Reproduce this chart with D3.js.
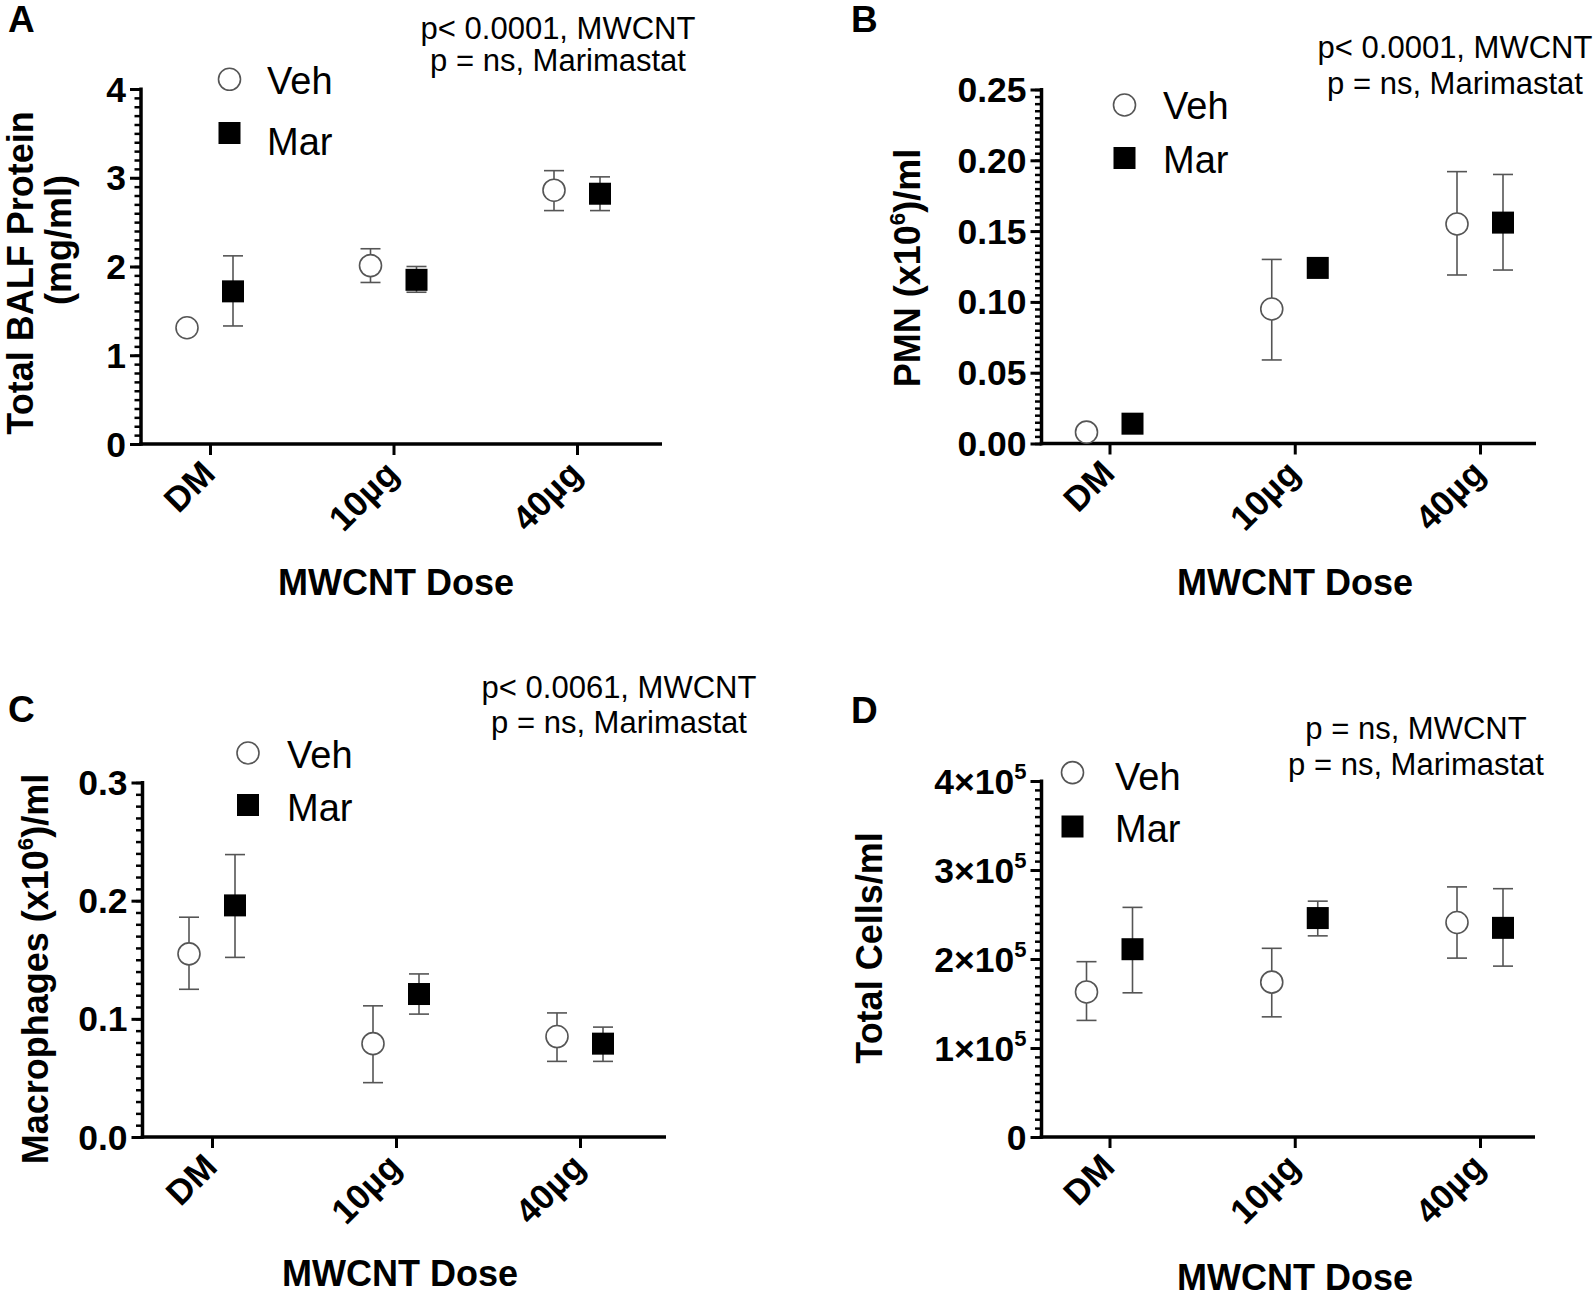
<!DOCTYPE html>
<html><head><meta charset="utf-8">
<script src="https://cdn.jsdelivr.net/npm/d3@7"></script>
<style>
body{margin:0;background:#fff}
svg{display:block}
text{font-family:"Liberation Sans",Arial,Helvetica,sans-serif;fill:#000}
</style>
</head><body>
<svg id="c" width="1594" height="1298"></svg>
<script>
// ---------------- DATA ----------------
const categories = ["DM", "10µg", "40µg"];
const seriesNames = ["Veh", "Mar"];
const xTitle = "MWCNT Dose";

// Panel A: Total BALF Protein (mg/ml)
const protVeh   = [1.31, 2.01, 2.86];
const protVehLo = [1.31, 1.82, 2.63];
const protVehHi = [1.31, 2.20, 3.08];
const protMar   = [1.72, 1.85, 2.82];
const protMarLo = [1.33, 1.71, 2.63];
const protMarHi = [2.12, 2.00, 3.01];
const protTicks = [0, 1, 2, 3, 4];
const protTickLabels = ["0", "1", "2", "3", "4"];
const protTitle = ["Total BALF Protein", "(mg/ml)"];
const protStats = ["p< 0.0001, MWCNT", "p = ns, Marimastat"];

// Panel B: PMN (x10^6)/ml
const pmnVeh   = [0.008, 0.095, 0.155];
const pmnVehLo = [0.008, 0.059, 0.119];
const pmnVehHi = [0.008, 0.130, 0.192];
const pmnMar   = [0.014, 0.124, 0.156];
const pmnMarLo = [0.014, 0.124, 0.1225];
const pmnMarHi = [0.014, 0.124, 0.190];
const pmnTicks = [0, 0.05, 0.10, 0.15, 0.20, 0.25];
const pmnTickLabels = ["0.00", "0.05", "0.10", "0.15", "0.20", "0.25"];
const pmnTitle = ["PMN (x10^6)/ml"];
const pmnStats = ["p< 0.0001, MWCNT", "p = ns, Marimastat"];

// Panel C: Macrophages (x10^6)/ml
const macVeh   = [0.155, 0.079, 0.085];
const macVehLo = [0.125, 0.046, 0.064];
const macVehHi = [0.186, 0.111, 0.105];
const macMar   = [0.196, 0.121, 0.079];
const macMarLo = [0.152, 0.104, 0.064];
const macMarHi = [0.239, 0.138, 0.093];
const macTicks = [0, 0.1, 0.2, 0.3];
const macTickLabels = ["0.0", "0.1", "0.2", "0.3"];
const macTitle = ["Macrophages (x10^6)/ml"];
const macStats = ["p< 0.0061, MWCNT", "p = ns, Marimastat"];

// Panel D: Total Cells/ml
const cellVeh   = [163000, 174000, 241000];
const cellVehLo = [131000, 135000, 201000];
const cellVehHi = [197000, 212000, 281000];
const cellMar   = [211000, 246000, 235000];
const cellMarLo = [162000, 226000, 192000];
const cellMarHi = [258000, 265000, 279000];
const cellTicks = [0, 100000, 200000, 300000, 400000];
const cellTickLabels = ["0", "1×10^5", "2×10^5", "3×10^5", "4×10^5"];
const cellTitle = ["Total Cells/ml"];
const cellStats = ["p = ns, MWCNT", "p = ns, Marimastat"];

// ---------------- LAYOUT ----------------
const panels = [
  {letter:"A", lx:8, ly:32,
   veh:[protVeh,protVehLo,protVehHi], mar:[protMar,protMarLo,protMarHi],
   ticks:protTicks, tickLabels:protTickLabels, minor:40, title:protTitle, stats:protStats,
   axisX:141, yTop:89, yBot:444, xEnd:662, catRange:[210,577],
   titlePos:[[33,273],[71,240]], xTitlePos:[396,595],
   statsPos:[558,38.5,71], leg:{cx:229.5, cy1:79.3, cy2:133, tx:267, ty1:93.5, ty2:154.5}},
  {letter:"B", lx:851, ly:32,
   veh:[pmnVeh,pmnVehLo,pmnVehHi], mar:[pmnMar,pmnMarLo,pmnMarHi],
   ticks:pmnTicks, tickLabels:pmnTickLabels, minor:50, title:pmnTitle, stats:pmnStats,
   axisX:1041.5, yTop:89.5, yBot:443.5, xEnd:1536, catRange:[1109.5,1480],
   titlePos:[[920,268]], xTitlePos:[1295,595],
   statsPos:[1455,58,94], leg:{cx:1124.5, cy1:105, cy2:158, tx:1163, ty1:119, ty2:173}},
  {letter:"C", lx:8, ly:722,
   veh:[macVeh,macVehLo,macVehHi], mar:[macMar,macMarLo,macMarHi],
   ticks:macTicks, tickLabels:macTickLabels, minor:30, title:macTitle, stats:macStats,
   axisX:142.5, yTop:782.5, yBot:1137, xEnd:666, catRange:[212,580],
   titlePos:[[48,969]], xTitlePos:[400,1286],
   statsPos:[619,698,733], leg:{cx:248, cy1:753, cy2:805, tx:287, ty1:768, ty2:821}},
  {letter:"D", lx:851, ly:723,
   veh:[cellVeh,cellVehLo,cellVehHi], mar:[cellMar,cellMarLo,cellMarHi],
   ticks:cellTicks, tickLabels:cellTickLabels, minor:40, title:cellTitle, stats:cellStats,
   axisX:1041.5, yTop:781, yBot:1137, xEnd:1535, catRange:[1109.5,1480],
   titlePos:[[882,948]], xTitlePos:[1295,1290],
   statsPos:[1416,739,775], leg:{cx:1072.5, cy1:772.6, cy2:826.5, tx:1115, ty1:790, ty2:842}}
];

const svg = d3.select("#c");
const OFF = 23, R = 11, SQ = 22, CAP = 20;
const ERR = "#555";

// text with ^n superscripts
function rich(sel, str, size){
  const parts = str.split(/\^(\w)/);
  parts.forEach((p,i)=>{
    if(!p) return;
    if(i % 2 === 1){
      sel.append("tspan").attr("font-size", size*0.62).attr("dy", -size*0.42).text(p);
    } else {
      const t = sel.append("tspan").text(p);
      if(i > 0) t.attr("dy", size*0.42);
    }
  });
  return sel;
}

panels.forEach(P => {
  const g = svg.append("g");
  const ext = [P.ticks[0], P.ticks[P.ticks.length-1]];
  const y = d3.scaleLinear().domain(ext).range([P.yBot, P.yTop]);
  const x = d3.scalePoint().domain(categories).range(P.catRange);

  // minor ticks
  const minorVals = d3.range(P.minor+1).map(i => ext[0] + i*(ext[1]-ext[0])/P.minor);
  g.append("g").attr("transform",`translate(${P.axisX},0)`)
    .call(d3.axisLeft(y).tickValues(minorVals).tickSize(6.5).tickSizeOuter(0).tickFormat(""))
    .call(s => { s.select(".domain").remove(); s.selectAll("line").attr("stroke","#000").attr("stroke-width",2.5); });
  // major ticks
  g.append("g").attr("transform",`translate(${P.axisX},0)`)
    .call(d3.axisLeft(y).tickValues(P.ticks).tickSize(11).tickSizeOuter(0).tickFormat(""))
    .call(s => { s.select(".domain").remove(); s.selectAll("line").attr("stroke","#000").attr("stroke-width",3); });
  // x ticks
  g.append("g").attr("transform",`translate(0,${P.yBot})`)
    .call(d3.axisBottom(x).tickSize(11).tickSizeOuter(0).tickFormat(""))
    .call(s => { s.select(".domain").remove(); s.selectAll("line").attr("stroke","#000").attr("stroke-width",3); });
  // axis lines
  g.append("line").attr("x1",P.axisX).attr("x2",P.axisX).attr("y1",y(ext[1])-1.5).attr("y2",P.yBot+1.75)
    .attr("stroke","#000").attr("stroke-width",3.5);
  g.append("line").attr("x1",P.axisX-1.75).attr("x2",P.xEnd).attr("y1",P.yBot).attr("y2",P.yBot)
    .attr("stroke","#000").attr("stroke-width",3.5);

  // y tick labels
  P.ticks.forEach((v,i) => {
    const t = g.append("text").attr("x",P.axisX-15).attr("y",y(v)+12.5)
      .attr("text-anchor","end").attr("font-weight","bold").attr("font-size",35.5);
    rich(t, P.tickLabels[i], 35.5);
  });
  // x tick labels
  categories.forEach(c => {
    const px = x(c)+7, py = P.yBot+32;
    g.append("text").attr("transform",`translate(${px},${py}) rotate(-45)`)
      .attr("text-anchor","end").attr("font-weight","bold").attr("font-size",35).text(c);
  });
  // x title
  g.append("text").attr("x",P.xTitlePos[0]).attr("y",P.xTitlePos[1]).attr("text-anchor","middle")
    .attr("font-weight","bold").attr("font-size",36).text(xTitle);
  // y title
  P.title.forEach((s,i) => {
    const t = g.append("text").attr("transform",`translate(${P.titlePos[i][0]},${P.titlePos[i][1]}) rotate(-90)`)
      .attr("text-anchor","middle").attr("font-weight","bold").attr("font-size",36);
    rich(t, s, 36);
  });
  // stats
  P.stats.forEach((s,i) => {
    g.append("text").attr("x",P.statsPos[0]).attr("y",P.statsPos[1+i]).attr("text-anchor","middle")
      .attr("font-size",31).text(s);
  });
  // panel letter
  g.append("text").attr("x",P.lx).attr("y",P.ly).attr("font-weight","bold").attr("font-size",37).text(P.letter);

  // data: error bars then markers
  const series = [{name:"Veh", d:P.veh, off:-OFF}, {name:"Mar", d:P.mar, off:OFF}];
  series.forEach(S => {
    const [m, lo, hi] = S.d;
    categories.forEach((c,i) => {
      const cx = x(c) + S.off;
      const eg = g.append("g").attr("stroke",ERR).attr("stroke-width",1.6);
      eg.append("line").attr("x1",cx).attr("x2",cx).attr("y1",y(lo[i])).attr("y2",y(hi[i]));
      [lo[i], hi[i]].forEach(v => eg.append("line").attr("x1",cx-CAP/2).attr("x2",cx+CAP/2).attr("y1",y(v)).attr("y2",y(v)));
    });
    categories.forEach((c,i) => {
      const cx = x(c) + S.off, cy = y(m[i]);
      if(S.name === "Veh"){
        g.append("circle").attr("cx",cx).attr("cy",cy).attr("r",R)
          .attr("fill","#fff").attr("stroke","#555").attr("stroke-width",1.6);
      } else {
        g.append("rect").attr("x",cx-SQ/2).attr("y",cy-SQ/2).attr("width",SQ).attr("height",SQ).attr("fill","#000");
      }
    });
  });

  // legend
  const L = P.leg;
  g.append("circle").attr("cx",L.cx).attr("cy",L.cy1).attr("r",R).attr("fill","#fff").attr("stroke","#555").attr("stroke-width",1.6);
  g.append("rect").attr("x",L.cx-SQ/2).attr("y",L.cy2-SQ/2).attr("width",SQ).attr("height",SQ).attr("fill","#000");
  g.append("text").attr("x",L.tx).attr("y",L.ty1).attr("font-size",38).text(seriesNames[0]);
  g.append("text").attr("x",L.tx).attr("y",L.ty2).attr("font-size",38).text(seriesNames[1]);
});
</script>
</body></html>
